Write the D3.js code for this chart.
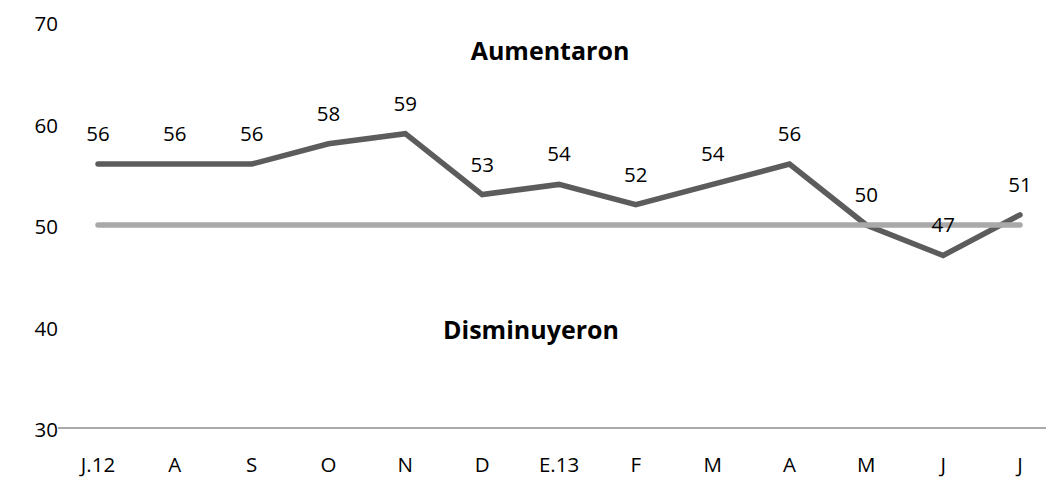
<!DOCTYPE html>
<html>
<head>
<meta charset="utf-8">
<script src="https://cdn.jsdelivr.net/npm/d3@7"></script>
<style>
  html, body { margin: 0; padding: 0; background: #fff; }
  svg { display: block; }
  text { font-family: "Open Sans", "Noto Sans", sans-serif; fill: #000; }
</style>
</head>
<body>
<svg id="chart" width="1046" height="478"></svg>
<script>
const categories = ["J.12", "A", "S", "O", "N", "D", "E.13", "F", "M", "A", "M", "J", "J"];
const values = [56, 56, 56, 58, 59, 53, 54, 52, 54, 56, 50, 47, 51];
const reference = [50, 50, 50, 50, 50, 50, 50, 50, 50, 50, 50, 50, 50];
const yTicks = [30, 40, 50, 60, 70];
const annotations = [
  { text: "Aumentaron", cx: 550, value: 67.2 },
  { text: "Disminuyeron", cx: 531, value: 39.8 }
];

const W = 1046, H = 478;
const svg = d3.select("#chart");

const x = d3.scaleBand()
  .domain(d3.range(categories.length))
  .range([59.6, 1058.4])
  .padding(0);
const cx = i => x(i) + x.bandwidth() / 2;

const y = d3.scaleLinear().domain([30, 70]).range([428, 22]);

// baseline axis
svg.append("line")
  .attr("x1", 58).attr("x2", W)
  .attr("y1", y(30)).attr("y2", y(30))
  .attr("stroke", "#8c8c8c").attr("stroke-width", 1.6);

// y axis labels (no line)
const yAxis = d3.axisLeft(y).tickValues(yTicks).tickSize(0).tickPadding(0);
const yg = svg.append("g").attr("transform", "translate(58,2)").call(yAxis);
yg.select(".domain").remove();
yg.selectAll("text")
  .style("font-family", '"Open Sans", "Noto Sans", sans-serif')
  .style("font-size", "20.5px")
  .attr("fill", "#000");

// x axis labels
const xAxis = d3.axisBottom(x).tickFormat(i => categories[i]).tickSize(0).tickPadding(0);
const xg = svg.append("g").attr("transform", "translate(0,457)").call(xAxis);
xg.select(".domain").remove();
xg.selectAll("text")
  .style("font-family", '"Open Sans", "Noto Sans", sans-serif')
  .style("font-size", "20.5px")
  .attr("fill", "#000");

const line = d3.line().x((d, i) => cx(i)).y(d => y(d));

// main series
svg.append("path")
  .datum(values)
  .attr("d", line)
  .attr("fill", "none")
  .attr("stroke", "#5c5c5c")
  .attr("stroke-width", 5.5)
  .attr("stroke-linecap", "round")
  .attr("stroke-linejoin", "miter");

// reference line at 50
svg.append("path")
  .datum(reference)
  .attr("d", line)
  .attr("fill", "none")
  .attr("stroke", "#a9a9a9")
  .attr("stroke-width", 5.5)
  .attr("stroke-linecap", "round");

// data labels
svg.append("g").selectAll("text")
  .data(values)
  .join("text")
  .attr("x", (d, i) => cx(i))
  .attr("y", d => y(d) - 31)
  .attr("text-anchor", "middle")
  .attr("dominant-baseline", "central")
  .style("font-size", "20.5px")
  .text(d => d);

// annotations
svg.append("g").selectAll("text")
  .data(annotations)
  .join("text")
  .attr("x", d => d.cx)
  .attr("y", d => y(d.value))
  .attr("text-anchor", "middle")
  .attr("dominant-baseline", "central")
  .style("font-size", "25px")
  .style("font-weight", "bold")
  .text(d => d.text);
</script>
</body>
</html>
